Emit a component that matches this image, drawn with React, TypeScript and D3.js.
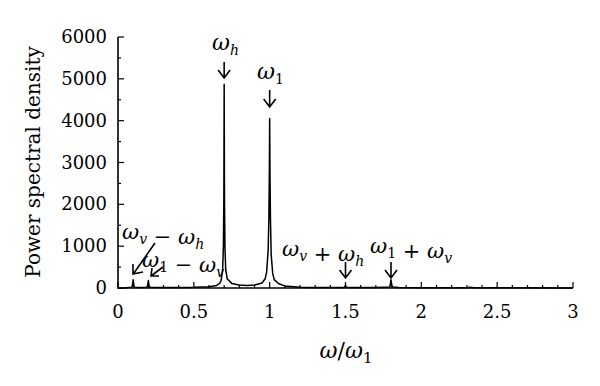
import React from "react";
import * as d3 from "d3";

const freq = [0, 0.05, 0.09, 0.095, 0.1, 0.105, 0.11, 0.15, 0.19, 0.195, 0.2, 0.205, 0.21, 0.3, 0.4, 0.5, 0.6, 0.65, 0.67, 0.68, 0.69, 0.695, 0.698, 0.7, 0.702, 0.705, 0.71, 0.72, 0.75, 0.8, 0.85, 0.9, 0.95, 0.97, 0.98, 0.99, 0.995, 0.998, 1.0, 1.002, 1.005, 1.01, 1.02, 1.03, 1.06, 1.1, 1.2, 1.3, 1.49, 1.495, 1.5, 1.505, 1.51, 1.6, 1.7, 1.79, 1.795, 1.8, 1.805, 1.81, 1.85, 2.0, 2.3, 2.32, 2.35, 2.5, 3.0];
const psd = [0, 5, 20, 60, 200, 60, 20, 10, 20, 60, 180, 60, 20, 10, 10, 15, 30, 60, 110, 180, 450, 1000, 2200, 4870, 2200, 1000, 450, 220, 110, 70, 60, 70, 120, 220, 380, 900, 1700, 2800, 4050, 2800, 1700, 800, 350, 200, 100, 50, 20, 12, 12, 25, 70, 25, 12, 10, 12, 25, 70, 200, 70, 25, 10, 5, 8, 20, 8, 5, 2];

const yTicks = [0, 1000, 2000, 3000, 4000, 5000, 6000];
const xTicks = [0, 0.5, 1, 1.5, 2, 2.5, 3];

const FONT = "'DejaVu Serif', 'Liberation Serif', serif";

function Arrow({ x, y1, y2 }: { x: number; y1: number; y2: number }) {
  return (
    <path d={`M${x},${y1}L${x},${y2}M${x - 6},${y2 - 8}L${x},${y2}L${x + 6},${y2 - 8}`} fill="none" stroke="#000" strokeWidth={1.6} />
  );
}

function Omega({ sub, italicSub }: { sub: string; italicSub: boolean }) {
  return (
    <>
      <tspan fontStyle="italic">ω</tspan>
      <tspan fontSize="14" dy="5" fontStyle={italicSub ? "italic" : "normal"}>{sub}</tspan>
      <tspan dy="-5"></tspan>
    </>
  );
}

export default function App() {
  const W = 600, H = 386;
  const x = d3.scaleLinear().domain([0, 3]).range([118, 573]);
  const y = d3.scaleLinear().domain([0, 6000]).range([288, 37]);
  const pts: [number, number][] = freq.map((f, i) => [f, psd[i]]);
  const line = d3.line<[number, number]>().x(d => x(d[0])).y(d => y(d[1]));
  const xMinor = d3.range(0, 31).map(i => i / 10);
  const yMinor = d3.range(0, 13).map(i => i * 500);

  return (
    <svg width={W} height={H} style={{ position: "absolute", left: 0, top: 0, background: "#fff" }} fontFamily={FONT}>
      <rect width={W} height={H} fill="#fff" />
      <path d={`M${x(0)},${y(6000)}L${x(0)},${y(0)}L${x(3)},${y(0)}`} fill="none" stroke="#000" strokeWidth={1.6} />
      {xMinor.map((t, i) => (
        <line key={"xm" + i} x1={x(t)} x2={x(t)} y1={y(0)} y2={y(0) - (i % 5 === 0 ? 6 : 3)} stroke="#000" strokeWidth={1.2} />
      ))}
      {yMinor.map((t, i) => (
        <line key={"ym" + i} x1={x(0)} x2={x(0) + (i % 2 === 0 ? 6 : 3)} y1={y(t)} y2={y(t)} stroke="#000" strokeWidth={1.2} />
      ))}
      {yTicks.map(t => (
        <text key={"yt" + t} x={107} y={y(t) + 6} textAnchor="end" fontSize={18}>{t}</text>
      ))}
      {xTicks.map(t => (
        <text key={"xt" + t} x={x(t)} y={318} textAnchor="middle" fontSize={18}>{String(t)}</text>
      ))}
      <text transform="translate(40,162) rotate(-90)" textAnchor="middle" fontSize={20}>Power spectral density</text>
      <text x={346} y={358} textAnchor="middle" fontSize={22}>
        <tspan fontStyle="italic">ω</tspan>/<tspan fontStyle="italic">ω</tspan><tspan fontSize="15" dy="5">1</tspan>
      </text>
      <path d={line(pts) || ""} fill="none" stroke="#000" strokeWidth={1.5} strokeLinejoin="round" />
      <text x={212} y={50} fontSize={22}><Omega sub="h" italicSub={true} /></text>
      <Arrow x={x(0.7)} y1={62} y2={78} />
      <text x={257} y={79} fontSize={22}><Omega sub="1" italicSub={false} /></text>
      <Arrow x={x(1.0)} y1={90} y2={107} />
      <text x={122} y={239} fontSize={21}>
        <Omega sub="v" italicSub={true} /><tspan> − </tspan><Omega sub="h" italicSub={true} />
      </text>
      <text x={142} y={267} fontSize={21}>
        <Omega sub="1" italicSub={false} /><tspan> − </tspan><Omega sub="v" italicSub={true} />
      </text>
      <path d="M155,243L134,273M133,264L133,274L143,272" fill="none" stroke="#000" strokeWidth={1.6} />
      <path d="M163,267L151,276M152,268L151,276L159,276" fill="none" stroke="#000" strokeWidth={1.6} />
      <text x={282} y={256} fontSize={21}>
        <Omega sub="v" italicSub={true} /><tspan> + </tspan><Omega sub="h" italicSub={true} />
      </text>
      <Arrow x={x(1.5)} y1={262} y2={278} />
      <text x={370} y={253} fontSize={21}>
        <Omega sub="1" italicSub={false} /><tspan> + </tspan><Omega sub="v" italicSub={true} />
      </text>
      <Arrow x={x(1.8)} y1={262} y2={278} />
    </svg>
  );
}
